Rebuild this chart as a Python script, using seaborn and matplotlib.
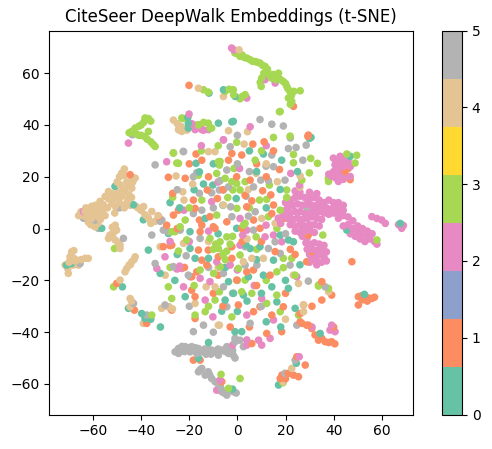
import numpy as np
import pandas as pd
import matplotlib
matplotlib.use("Agg")
import matplotlib.pyplot as plt
import seaborn as sns

# points, one list per class label
teal_pts = [(-2.3,41.2),(-20.4,40.6),(-17.2,25.2),(-15.8,21.9),(-14.1,17.2),(-10.2,16.8),(-0.5,11.6),(-13.4,3.9),
    (10.8,28.8),(29.9,34.8),(18.4,26.4),(17.8,15.1),(-28.7,-1.9),(-19.7,-1.2),(-0.3,0.1),(-19.7,-7.7),(3.6,-6.4),
    (-17.6,-11.5),(-12,-11.5),(-3.7,-20.5),(-1.6,-25),(-21.7,-26.3),(-5.1,-27.6),(-6.5,-31.9),(-1,-39.8),(17.8,-2.5),
    (21.2,-4.4),(23.3,-5.1),(5.3,-7.7),(9.4,-7),(15,-12.2),(4.6,-18.6),(10.8,-18),(2.5,-25.7),(14.3,-22.5),(21.2,-23.1),
    (16.4,-28.3),(24,-30.8),(1.8,-39.8),(34.4,-40.5),(-11.8,52.3),(-5.8,53.6),(-0.9,51),(-20.6,42.9),(-20.4,38.8),
    (-7.9,40.7),(-1.7,41.4),(30.6,35.2),(46.9,27.9),(45.5,-0.6),(67.7,2),(52.8,-25.4),(-43.2,9.2),(-39.1,3.4),
    (-50.9,16.3),(-56.4,0.1),(-71,-14.1),(-69,-13.5),(-47.8,-22.5),(-45.3,-30.8),(-39.8,-32.8),(-38.4,-34.7),
    (-32.1,-17.3),(-37,-8.3),(-16.2,-50.1),(-2,-62),(17.1,-60.4),(24.5,-52),(8,22),(-8,-2),(12,-36),(-24,8),(4,-28),
    (26,-14),(-6,9),(20,-20),(-26,-20),(-12,-44),(-32,-38),(-36,-35),
    (-10,25),(5,30),(-25,-10),(12,8),(-5,-15),(8,-12),(25,22),(-18,15),(0,-32),(18,-38),(-28,10),(10,-25)]

orange_pts = [(-17.2,28.8),(-2.3,29),(1.8,28.4),(-14.8,26.4),(-3.7,26.4),(-28.7,19.8),(-21.7,19.4),(-0.3,20),
    (-12.5,14.9),(-26.9,13.6),(-8.3,11.6),(-18.3,11),(3.2,12.9),(-17.6,7.8),(-24.5,7.1),(-26.6,5.2),(-15.8,3.3),
    (-11.4,4.6),(-4.4,2.6),(-29.4,1.3),(-14.8,1.3),(-10,0.7),(29.5,36.1),(11.1,33.5),(6.4,32.6),(17.5,22.8),(5.3,18.7),
    (10.5,14.6),(13.9,13),(6,10.7),(15,9.1),(3.9,8.4),(6.7,3.3),(14.3,5.8),(-15.5,-1.2),(-9.3,0.1),(-30.8,-7),
    (-27.3,-6.4),(-16.2,-8.3),(-12.1,-8.3),(-2.3,-7),(-14.8,-12.2),(-7.9,-10.9),(-2.3,-11.5),(-12.7,-14.1),
    (-16.9,-16.7),(-0.3,-19.9),(-19,-23.8),(-17.6,-26.3),(0.4,-29.5),(-28.7,-30.2),(-17.6,-34.7),(1.8,0.1),(9.4,0.1),
    (29.5,-2.5),(30.9,-8.9),(15.7,-8.9),(28.8,-12.8),(6.7,-16),(3.9,-16.7),(13.6,-18),(9.4,-30.2),(6.7,-32.1),
    (19.1,-30.2),(14.3,-33.4),(27.5,-29.5),(26.1,-36),(28.8,-37.3),(12.2,-40.5),(18.4,-39.8),(-20.1,55.3),(23.3,47.2),
    (29.3,35.6),(44.8,22.1),(46.2,23.3),(46.9,18.9),(47.6,-12.8),(50.3,-26.3),(51.5,-26),(53.1,-26.3),(54.5,-26.8),
    (55.9,-27),(57,-26.5),(50.3,-29.5),(52,-27.5),(54,-28),(35.1,-20.5),(39.2,-25.7),(26.1,-32.8),(26.8,-36.6),
    (29.5,-37.3),(30.9,-38.6),(32.3,-41.1),(33.7,-43.1),(35.1,-42.4),(36.5,-43.7),(38,-44),(39.2,-43.7),(40.5,-44.5),
    (24.7,-49.5),(21.2,-55.9),(23.3,-56.6),(28.2,-52.7),(25.4,-57.2),(18.5,-56.6),(17.8,-57.9),(20,-58),(-18.3,-50.8),
    (-15.5,-50.8),(-6.5,-59.1),(6,-44.4),(-44.6,20.8),(-32.8,4.7),(-42.8,-31.5),(-37.7,-36.6),(-50.2,-21.2),
    (-27.3,-31.5),(-28,-6.6),(-19,-18.6),(35.1,-27.6),(31,-30),(40,-38),(22,-8),(8,-22),(-8,-18),(20,4),(-6,-30),
    (-20,25),(-6,15),(8,25),(12,20),(-22,-15),(-10,-25),(2,-5),(10,-5),(-25,0),(5,-38),(20,-25),(-12,20),(24,-10),
    (-3,-38),(15,30)]

pink_pts = [(-14.1,38),(-16,39),(-18,40),(-19,40.5),(-5.8,34.2),(-29.4,25.8),(0.9,23.2),(-10.7,10.4),(-22.2,7.1),
    (1.1,3.9),(5.3,39.3),(22.2,21.3),(25.8,16.8),(11.9,1.3),(32.3,4.6),(-12,-1),(2.2,-2.5),(1.1,-6.4),(-30.1,-10.9),
    (-24.5,-15.4),(-25.2,-15.6),(-23.1,-15.4),(-24,-14.5),(-8.6,-12.8),(-3,-14.1),(-15.5,-19.2),(-22.4,-22.5),
    (-11.4,-20.5),(-13.4,-27.6),(-10.2,-34.1),(3.9,-43),(3.9,-0.6),(11.5,-3.2),(15,-2.5),(18.4,-5.1),(26.8,-0.6),
    (24.7,-18.6),(10.1,-27),(3.9,-33.4),(15,-35.3),(13.6,-42.4),(-2.4,69.7),(-1.5,69),(11.5,57.5),(15.7,56.2),
    (3.9,50.4),(-20.1,44.2),(-17.6,38.2),(-14.8,38.2),(-12.1,38.2),(-5.8,34.3),(-45.3,33),(-64,6.6),(-33.5,-15.4),
    (-8.6,-62.4),(-7.2,-58.5),(8.8,-43.1),(10.1,-45),(3.9,-45),(25.7,-49.5),(39.2,-37.3),(38.5,-39.2),(40.6,-39.8),
    (31,-38),(-8,18),(-20,-5),(7,-22),(-2,-45),(-28,-5),(12,32),(0,-16),(-15,32),
    (39.9,27.2),(42.7,27.9),(41,26),(43,26.5),(44,27),(40.6,24.6),(43.4,25.3),(45,25),(42,23.5),(44,24),(42,22.1),
    (43,21),(46.9,20.1),(45,20.5),(39.2,20.1),(41,19.5),(42,18.2),(44,19),(40,22),(38,21),(47,24),(46,26),
    (20,10),(22,11),(24,12),(26,12.5),(28,12),(30,11.5),(32,12),(34,11),(21,8),(23,9),(25,9.5),(27,9),(29,9.5),(31,9),
    (33,9),(35,8.5),(37,8),(39,7.5),(41,9),(43,8.5),(44,7),(42,6),(40,6),(38,5.5),(36,6),(34,6.5),(32,6.5),(30,6.5),
    (28,6),(26,6.5),(24,6.5),(22,6),(20,7),(19,5),(21,4),(23,3.5),(25,4),(27,3.5),(29,4),(31,4.5),(33,4),(35,3.5),
    (22,1.5),(24,1),(26,1.5),(28,1),(30,1.5),(32,1.5),(34,1),(24,-1),(26,-1.5),(28,-1),(30,-0.5),(32,-1.5),(27,-3),
    (29,-3.5),(18,2),(17,4),(36,10),(38,11),(26,14),(24,14.5),(30,14),(33,13.5),
    (28.5,-5.5),(30,-6),(32,-5.5),(34,-6),(36,-6.5),(29,-8),(31,-8),(33,-8.5),(35,-8),(37,-9),(30,-10),(32,-10.5),
    (34,-10),(36,-11),(31,-12),(33,-12.5),(35,-13),(37,-12.5),(33,-14),(30,-13),
    (42,4),(44,5),(46,4.5),(48,3),(44,1),(46,1.5),(48,0),(50,-1),(52,-2),(54,-3),(50,1),(52,0),(54,-1),(56,-2),(55,-4),
    (57,-5),(53,-5),(51,-4),(49,-3),(47,-2),(58,-6),(55.9,4.6),(58,3.9),(60,3.3),(61.5,2),(68.3,0.1),(67,1.5),(69,1.2),
    (40,10),(42,10),(44,9),(43,7),(40,8)]

green_pts = [(-22.4,42.5),(-16.2,40),(-11.3,38.7),(-0.3,33.3),(-26.6,29.3),(-24.5,25.2),(-7.9,25.8),(-7.5,24.5),
    (-1.4,23.2),(-16.2,20.6),(-8.6,21.3),(-5.1,19.4),(3.2,18.1),(-2.3,18.1),(-0.3,17.4),(-26.9,12.1),(-14.8,11),
    (-1.9,14.9),(1.1,14.9),(-0.2,7.8),(-21.7,3.3),(-8.6,5.2),(2.5,1.3),(-23.8,0.7),(17.5,45.1),(21.9,35.7),(15,35.2),
    (23.3,28.6),(7.4,26.4),(30.5,27.1),(33.3,25.2),(23.3,25.4),(29.9,21.5),(37.8,19.4),(26.8,18.7),(13.3,16.8),
    (20.5,14.9),(9.2,11),(12.2,11.3),(20.5,12),(12.9,4.6),(16.4,0.1),(3.2,2),(17.8,7.1),(-25.9,-1.2),(-21.1,-4.4),
    (-11.4,-3.8),(-7.2,-5.1),(-4.4,-3.2),(-7.9,-7.7),(-4.4,-8.7),(-5.8,-9.6),(1.1,-10.2),(0.4,-15.4),(-9.9,-17.3),
    (-7.2,-14.7),(-15.5,-16),(-7.5,-24.4),(3.2,-19.9),(-28.7,-22.5),(1.8,-24.4),(-27.3,-27),(-9.3,-27.6),(-13.4,-32.1),
    (-17.6,-33.4),(-2.3,-34.1),(7.8,-3.2),(19.1,-11.5),(22.6,-11.5),(16.4,-16.7),(19.1,-15.1),(33.7,-21.8),(6,-25),
    (16.4,-25.7),(12.2,-28.9),(17.8,-32.1),(25.4,-33.4),(35.5,-2.5),(-6,-10),(-3,-6),(-9,-6),(-5,-12),(-2,-3),(-10,-8),
    (-15,30),(-20,8),(5,8),(-12,-30),(10,30),(-28,-15),(24,-18),(8,-8),(-18,-22),(0,-20),(12,-20),(-4,12),(-8,32),
    (-1,67.8),(0,67.5),(1.1,66.5),(3,66),(5.3,65.2),(7.4,64.5),(9.4,63.9),(10.5,63),(11.5,62.6),(12.5,61.5),(12.9,60),
    (13.5,59),(14.3,58.1),(10.1,58.1),(9.5,56.5),(9.9,54.9),(16.4,58.7),(17.1,60),(18,57.5),(19.1,56.8),(20.5,54.9),
    (21,54),(21.9,52.9),(23.5,53),(26.1,53.2),(21.2,50.4),(22.6,49.1),(22,48),(17.8,45.2),
    (2,67),(4,65.8),(6.3,64.6),(8.4,64.2),(15,59.5),(16,57.5),(11,60),(20,56),(22.5,51.5),
    (-14.1,53.6),(-12.1,52.7),(-5.1,53),(-1.7,53.6),(-1.6,51.7),(1.1,50.1),(2,51),(3.2,51.7),(-3.5,53.8),
    (-38.4,42.7),(-37,42.5),(-36,41.5),(-39,41),(-40,40),(-41,39.5),(-42.5,38.8),(-44,37.5),(-43,37),(-42,36.5),
    (-41,36),(-40,36),(-38.5,35.5),(-37,37.5),(-37.5,34.5),(-36,33.5),(-35,32.5),(-34.2,31.7),(-45,37),
    (-23.1,42.7),(-16.2,40.1),(-12.1,40.7),(-10.7,38.8),(-14,41),
    (45.5,28.8),(49.6,28.3),(48.9,25.3),(37.9,18.2),(37.9,-23.1),(33.7,-22.2),(58,-4.4),(1.1,-57.9),(-3.7,-61.7),
    (-6.8,-56.3),(-51.1,-7.7),(-51.5,-22.5),(-35.6,-33.4),(-27.3,-1.2),(-24.5,-8.7),(19,-59.5),(-25.2,25.3),
    (-26.6,29.1),(-7.2,25.9)]

tan_pts = [(-26.6,41.9),(-25,40.5),(-23.5,39.5),(-22,38.5),(-24,38),(-21,38),(-3.7,37.8),(-12,29.7),(-9.3,29.7),
    (-25.5,20.3),(-18.6,17.2),(-22.7,14.2),(-22.2,11),(-5.8,9.1),(2.8,32.6),(4.2,37.4),(7.8,21.3),(16.6,18.1),
    (26.1,20.3),(4.6,15.1),(10.1,3.9),(15.7,2),(-22.4,-5.7),(-13,-22.5),(-9.3,-22.5),(-17.6,-28.9),(-7.5,-37.3),
    (2.5,-12.8),(6,-11.5),(10.8,-11.5),(23.3,-18),(25.4,-21.2),(27.5,-32.1),(27.5,-29.5),(37.9,-24.4),(22.6,-54),
    (19.1,-59.1),(0.7,69),(-16.2,54.2),(-5.8,51),(-32.1,-7),(-7.9,-37.3),(26,16),
    (-8,-15),(12,25),(-12,-5),(20,-35),(-30,-18),(4,-4),
    (-48.1,21.4),(-47,20.5),(-42.5,19.5),(-43.5,18),(-48.8,16.9),(-47.5,15.5),(-46.7,14.3),(-43.9,15.6),(-45,13),
    (-53.6,14.3),(-52,13.5),(-55,12.4),(-53.5,11.5),(-57.1,10.5),(-55.7,9.2),(-52.2,9.8),(-50.8,8.6),(-49,10),
    (-46,9.8),(-44.5,9),(-41.2,7.9),(-42,8.5),(-60.6,8.6),(-59,9),(-62,7.5),(-63.3,6.6),(-64.7,5.3),(-66,5),(-60.6,4),
    (-57.8,4.7),(-62,5.5),(-58.5,6.5),(-56,7),(-38.4,5.3),(-35.6,6.6),(-34.2,2.8),(-37,4),(-36,2),(-50.5,12),(-48,12.5),
    (-50,18),(-49.5,14),(-45.5,11),(-47,8),(-54,8),(-51,6),(-60,6),(-63,8),(-65,6.5),(-55,5),(-46,18),(-44,12),
    (-40,7),(-39,8.5),(-33,5),(-49,20),(-45,16.5),(-52,11),(-58,8),
    (-64.7,5.2),(-63,4.5),(-60.6,3.9),(-62,2.5),(-59.2,0.7),(-61,1.5),(-58,2),(-57,3.5),
    (-50.8,1.3),(-50.2,-0.6),(-52,0.5),(-53,-2.5),(-53.6,-3.8),(-52,-3),(-50.8,-4.4),(-49.5,-5.5),(-48.8,-6.4),
    (-48.8,-7.7),(-51.5,-1.5),
    (-68.9,-9),(-68,-8.5),(-69.6,-10.9),(-68,-11.5),(-66.8,-12.2),(-65,-12),(-63.3,-11.5),(-62,-11.5),(-71.6,-14.1),
    (-70,-13),(-68.2,-14.1),(-66.1,-14.1),(-70.3,-17.3),(-70.5,-15.5),(-67.5,-12.5),
    (-42.5,-10.9),(-43,-12),(-43.9,-12.8),(-45,-14),(-46,-15.4),(-46.7,-16.7),(-44.5,-14),
    (-48.8,-19.9),(-44.6,-27),(-44,-28),(-44.6,-30.2),(-39.1,-36.6),(-28.4,-30.2),(-31.5,-30.8),(-27,-31),
    (-23.8,39.4),(-23.1,37.5),(-24.5,38.2),(-47,23),(-44,20)]

gray_pts = [(-3,31.6),(-22.4,29.7),(-16.9,21.6),(-4.4,22.6),(-18.3,20),(-7.2,18.5),(-7.5,14.9),(-5.8,14.9),
    (-3.7,16.1),(-15.8,13.6),(-10.7,13.8),(-2.8,8.4),(-14.8,7.1),(-18.3,5.8),(-2.3,4.6),(-31.4,3.3),(9.4,42.1),
    (14.3,40.3),(19.1,39.6),(21.2,30.9),(24.4,31.3),(28.6,32.2),(14.3,28.4),(27.2,26.4),(11.9,24.1),(15,23.9),
    (9.7,18.7),(12.9,18.5),(19.8,18.7),(6.7,16.1),(3.6,12.5),(7.4,6.5),(4.6,4.8),(28.8,8.4),(-30.8,-0.6),(-23.8,-0.6),
    (-15.5,-3.8),(-21.3,-10.5),(-26.6,-14.7),(3.2,-14.1),(-5.8,-17.3),(-19.7,-18.6),(-5.8,-22.5),(-4.4,-30.2),
    (-14.1,-37.3),(-18.3,-39.8),(-1,-42.4),(6.7,-0.6),(15.7,-5.1),(3.2,-7),(12.9,-7.7),(17.8,-9.6),(8.1,-14.1),
    (21.9,-14.1),(29.5,-20.3),(5.3,-36.6),(24.7,-37.3),(-43.7,36.2),(-34.2,24.6),(-22.5,29.8),(-59.2,3.3),(-57.8,0.1),
    (-47.4,-3.8),(-65.4,-13.5),(-43.2,-28.9),(-37.7,-33.4),(-30.1,-29.5),(-34.2,-13.5),(-35.6,-2.5),(-28.7,-1.2),
    (-20.4,-18),(-32.1,2.8),(36.5,-22.5),(24,-50.8),(19.8,-55.9),(-3.7,-46.9),(-1,-43.7),(2.5,-45.6),(1.1,-43.1),
    (-49,8),(-64,4),(0,25),(-10,8),(-25,15),(-12,-15),(-2,-25),(10,-30),(20,-2),(5,22),(-20,-30),(-10,-40),(22,35),(0,36),
    (-25.9,-47.6),(-24.5,-46.3),(-23,-45.5),(-21.7,-45.6),(-20,-46),(-19,-45.6),(-17.5,-46),(-16.2,-46.3),(-14.8,-47.6),
    (-13.5,-46.5),(-12.1,-46.3),(-10.5,-47),(-9.3,-47.6),(-8,-46.5),(-6.5,-46.9),(-5,-47.5),(-3.7,-48.2),(-1.7,-48.9),
    (-19.7,-47.6),(-16.9,-48.2),(-24.5,-48.2),(-22,-47.5),(-7.9,-48.9),(-4.4,-45.6),(-11,-48.5),(-13,-48.5),(-2,-47),
    (-1,-50),
    (-16.2,-55.3),(-14.8,-54),(-13.4,-56.6),(-12.1,-55.3),(-11.5,-56.5),(-10.7,-57.9),(-9.3,-59.1),(-8.2,-59.8),
    (-7.2,-60.4),(-6.8,-61.8),(-6.5,-63),(-5.5,-63.5),(-4.4,-64.3),(-3.1,-62.4),(-1.7,-63),(-15.5,-54.5),(-0.5,-63.5)]

class_labels = [0, 1, 2, 3, 4, 5]
class_points = [teal_pts, orange_pts, pink_pts, green_pts, tan_pts, gray_pts]

rows = []
for lab, pts in zip(class_labels, class_points):
    for x, y in pts:
        rows.append((x, y, lab))
df = pd.DataFrame(rows, columns=["x", "y", "label"])
# interleave classes so overlaps look mixed like the original
df = df.sort_values(["y", "x"]).reset_index(drop=True)

cmap = plt.get_cmap("Set2")
norm = matplotlib.colors.Normalize(vmin=0, vmax=5)
palette = {lab: cmap(norm(lab)) for lab in class_labels}

fig = plt.figure(figsize=(4.92, 4.49), dpi=100)
ax = fig.add_axes([0.1002, 0.0768, 0.7392, 0.8548])
sns.scatterplot(data=df, x="x", y="y", hue="label", palette=palette, s=30,
                linewidth=0, legend=False, ax=ax)
ax.set_xlim(-78.2, 73)
ax.set_ylim(-71.8, 76.4)
ax.set_xlabel("")
ax.set_ylabel("")
ax.set_title("CiteSeer DeepWalk Embeddings (t-SNE)", fontsize=12)

cax = fig.add_axes([442 / 492, 0.0768, 20 / 492, 0.8548])
sm = matplotlib.cm.ScalarMappable(norm=norm, cmap=cmap)
fig.colorbar(sm, cax=cax)

fig.savefig("out.png", dpi=100)
